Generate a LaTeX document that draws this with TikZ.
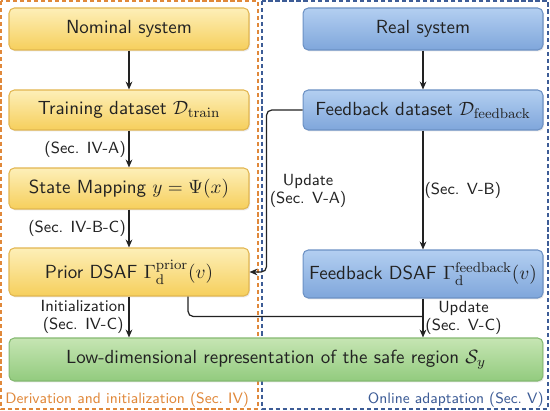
\documentclass[tikz,border=0pt]{standalone}
\usetikzlibrary{arrows.meta,calc,shadows}
\definecolor{ylT}{HTML}{FDEFB8}
\definecolor{ylB}{HTML}{F6CF5C}
\definecolor{ylD}{HTML}{E2B650}
\definecolor{blT}{HTML}{B3CFF1}
\definecolor{blB}{HTML}{7FA6DB}
\definecolor{blD}{HTML}{6C91C4}
\definecolor{gnT}{HTML}{C6E5B3}
\definecolor{gnB}{HTML}{92CB7E}
\definecolor{gnD}{HTML}{84B970}
\definecolor{orC}{HTML}{E0883A}
\definecolor{bxC}{HTML}{3D5C96}
\definecolor{txC}{HTML}{222222}
\begin{document}
\begin{tikzpicture}[x=0.02cm,y=-0.02cm,
  font=\sffamily\fontsize{10.8}{13}\selectfont, text=txC,
  box/.style={rounded corners=3pt, line width=0.6pt, minimum width=4.8cm, inner sep=0pt,
    drop shadow={opacity=0.18, shadow xshift=0.6pt, shadow yshift=-0.8pt}},
  ybox/.style={box, draw=ylD, top color=ylT, bottom color=ylB},
  bbox/.style={box, draw=blD, top color=blT, bottom color=blB},
  gbox/.style={box, draw=gnD, top color=gnT, bottom color=gnB, minimum width=10.68cm},
  arr/.style={draw=txC, line width=0.7pt, -{Stealth[length=4.5pt,width=3.8pt]}},
  plain/.style={draw=txC, line width=0.7pt},
  lab/.style={font=\sffamily\fontsize{9.2}{10.6}\selectfont, inner sep=1.5pt, align=center},
  frame/.style={line width=0.75pt, dash pattern=on 2.4pt off 1.6pt}
]
\useasboundingbox (0,0) rectangle (550,411);

\draw[frame, draw=orC] (1,1) rectangle (258,409);
\draw[frame, draw=bxC] (262,1) rectangle (548,409);

\node[ybox, minimum height=0.84cm] (nom) at (129,29) {Nominal system};
\node[ybox, minimum height=0.80cm] (train) at (129,110) {Training dataset $\mathcal{D}_{\mathrm{train}}$};
\node[ybox, minimum height=0.82cm] (state) at (129,188.5) {State Mapping $y=\Psi(x)$};
\node[ybox, minimum height=0.96cm] (prior) at (129,272) {Prior DSAF $\Gamma_{\mathrm{d}}^{\mathrm{prior}}(v)$};

\node[bbox, minimum height=0.84cm] (real) at (423,29) {Real system};
\node[bbox, minimum height=0.80cm] (fbdata) at (423,110) {Feedback dataset $\mathcal{D}_{\mathrm{feedback}}$};
\node[bbox, minimum height=0.96cm] (fbdsaf) at (423,274) {Feedback DSAF $\Gamma_{\mathrm{d}}^{\mathrm{feedback}}(v)$};

\node[gbox, minimum height=0.86cm] (low) at (276,359.5) {Low-dimensional representation of the safe region $\mathcal{S}_y$};

\draw[arr] (nom) -- (train);
\draw[arr] (train) -- node[lab, left] {(Sec. IV-A)} (state);
\draw[arr] (state) -- node[lab, left] {(Sec. IV-B-C)} (prior);
\draw[arr] (prior.south) -- node[lab, left] {Initialization\\(Sec. IV-C)} (prior.south |- low.north);

\draw[arr] (real) -- (fbdata);
\draw[arr] (fbdata) -- node[lab, right, inner sep=0.5pt] {(Sec. V-B)} (fbdsaf);
\draw[arr] (fbdsaf.south) -- node[lab, right, inner sep=1pt] {Update\\(Sec. V-C)} (fbdsaf.south |- low.north);

\draw[arr, rounded corners=3pt] (fbdata.west) -- ++(-36,0) |- node[lab, right, pos=0.25] {Update\\(Sec. V-A)} (prior.east);

\coordinate (j) at ($(fbdsaf.south)+(0,18)$);
\draw[plain, rounded corners=3pt] ($(prior.south)+(59,0)$) |- (j);

\node[anchor=base west, text=orC, font=\sffamily\fontsize{8.6}{10}\selectfont, inner sep=0pt] (lt) at (5,403) {Derivation and initialization (Sec.~IV)};
\node[anchor=base east, text=bxC, font=\sffamily\fontsize{8.6}{10}\selectfont, inner sep=0pt] (rt) at (544,403) {Online adaptation (Sec.~V)};
\end{tikzpicture}
\end{document}
